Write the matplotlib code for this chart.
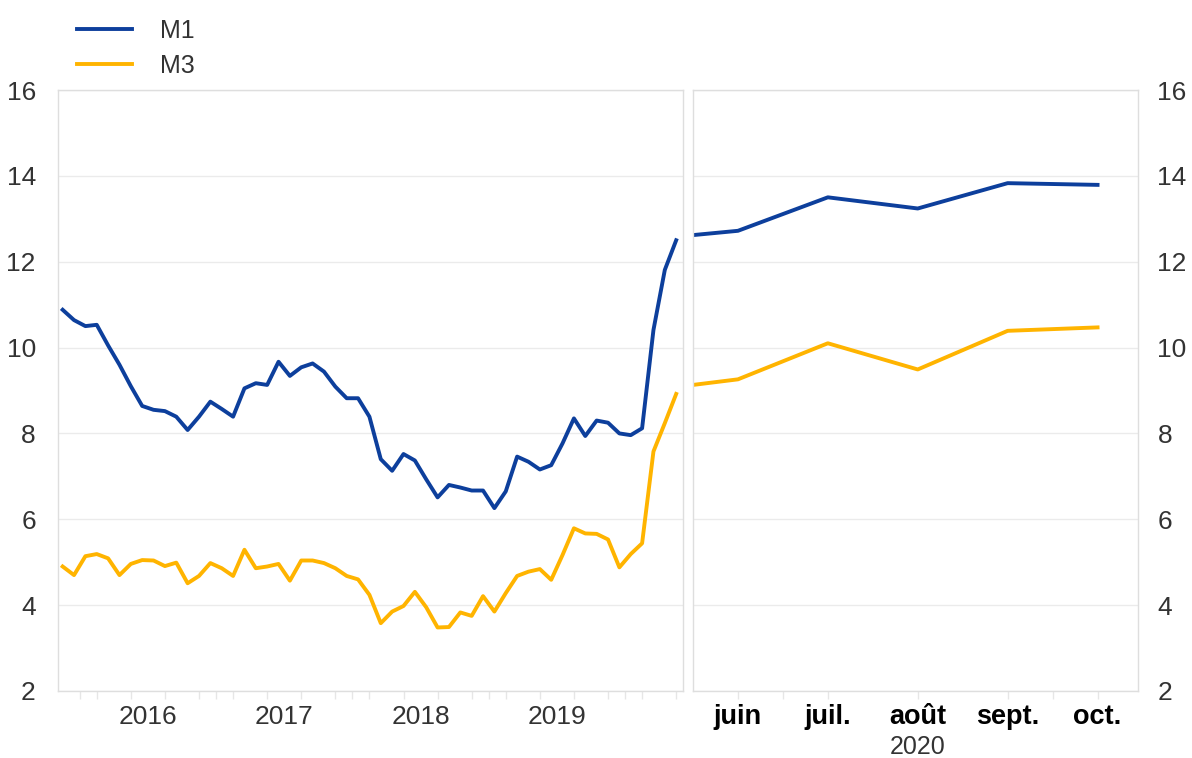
import numpy as np
import matplotlib
matplotlib.use("Agg")
import matplotlib.pyplot as plt

plt.rcParams["font.family"] = ["Liberation Sans", "DejaVu Sans"]

# monthly growth rates, Nov 2015 - May 2020
m1_hist = [10.88, 10.64, 10.50, 10.53, 10.05, 9.60, 9.10, 8.64, 8.55, 8.52,
           8.39, 8.08, 8.39, 8.74, 8.57, 8.39, 9.05, 9.17, 9.13, 9.67,
           9.34, 9.54, 9.63, 9.44, 9.09, 8.82, 8.82, 8.39, 7.40, 7.13,
           7.52, 7.37, 6.93, 6.51, 6.80, 6.74, 6.67, 6.67, 6.26, 6.65,
           7.46, 7.34, 7.16, 7.26, 7.77, 8.35, 7.94, 8.30, 8.25, 8.00,
           7.96, 8.12, 10.41, 11.81, 12.50]
m3_hist = [4.90, 4.70, 5.14, 5.19, 5.09, 4.70, 4.96, 5.05, 5.04, 4.91,
           4.99, 4.51, 4.68, 4.98, 4.86, 4.68, 5.29, 4.86, 4.90, 4.96,
           4.57, 5.04, 5.04, 4.98, 4.86, 4.68, 4.60, 4.24, 3.58, 3.85,
           3.98, 4.31, 3.95, 3.48, 3.49, 3.83, 3.75, 4.21, 3.85, 4.28,
           4.68, 4.78, 4.84, 4.59, 5.17, 5.79, 5.67, 5.66, 5.53, 4.88,
           5.19, 5.44, 7.58, 8.24, 8.92]
years = ["2016", "2017", "2018", "2019"]

# recent months (first point = end of May 2020)
months = ["juin", "juil.", "août", "sept.", "oct."]
m1_recent = [12.62, 12.72, 13.50, 13.24, 13.83, 13.79]
m3_recent = [9.13, 9.26, 10.10, 9.49, 10.39, 10.47]
recent_pos = [-0.5, 0, 1, 2, 3, 4]

blue = "#0d3f9c"
yellow = "#ffb400"
grid_c = "#ebebeb"
frame_c = "#dedede"
txt_c = "#333333"

fig = plt.figure(figsize=(11.92, 7.58), dpi=100)
ax1 = fig.add_axes([58 / 1192, 1 - 691 / 758, 625 / 1192, 601 / 758])
ax2 = fig.add_axes([693 / 1192, 1 - 691 / 758, 445 / 1192, 601 / 758])

x_hist = np.arange(len(m1_hist))
ax1.plot(x_hist, m1_hist, color=blue, lw=2.8, label="M1")
ax1.plot(x_hist, m3_hist, color=yellow, lw=2.8, label="M3")
ax1.set_xlim(-0.41, 54.6)

ax2.plot(recent_pos, m1_recent, color=blue, lw=2.8)
ax2.plot(recent_pos, m3_recent, color=yellow, lw=2.8)
ax2.set_xlim(-0.5, 4.45)

for ax in (ax1, ax2):
    ax.set_ylim(2, 16)
    ax.set_yticks(range(2, 17, 2))
    ax.grid(axis="y", color=grid_c, lw=1.0)
    ax.set_axisbelow(True)
    for s in ax.spines.values():
        s.set_color(frame_c)
        s.set_linewidth(1.0)
    ax.tick_params(axis="y", length=0, labelsize=19, labelcolor=txt_c, pad=16)
    ax.tick_params(axis="x", which="both", color="#e6e6e6", length=6, width=1.0)

ax1.yaxis.tick_left()
ax2.yaxis.tick_right()
ax2.tick_params(axis="y", length=0, pad=14)

# left x axis: year labels centered mid-year, ticks at quarters / year breaks
ax1.set_xticks([1.5 + 12 * k for k in range(5)])
ax1.set_xticks([3 + 3 * k for k in range(18)], minor=True)
ax1.set_xticklabels([])
for i, y in enumerate(years):
    ax1.text(7.5 + 12 * i, -0.024, y, transform=ax1.get_xaxis_transform(),
             ha="center", va="top", fontsize=19, color=txt_c)

# right x axis: months in bold, year below
ax2.set_xticks(range(len(months)))
ax2.set_xticks([0.5, 3.5], minor=True)
ax2.set_xticklabels(months, fontsize=19.5, fontweight="bold", color="black")
ax2.tick_params(axis="x", which="major", pad=3)
ax2.text(2, -0.074, "2020", transform=ax2.get_xaxis_transform(),
         ha="center", va="top", fontsize=18, color=txt_c)

fig.legend(loc="upper left", bbox_to_anchor=(62 / 1192, 0.995), frameon=False,
           fontsize=18, handlelength=2.2, handletextpad=1.1, labelspacing=0.45,
           borderaxespad=0.2, labelcolor=txt_c)

fig.savefig("out.png", dpi=100, facecolor="white")
